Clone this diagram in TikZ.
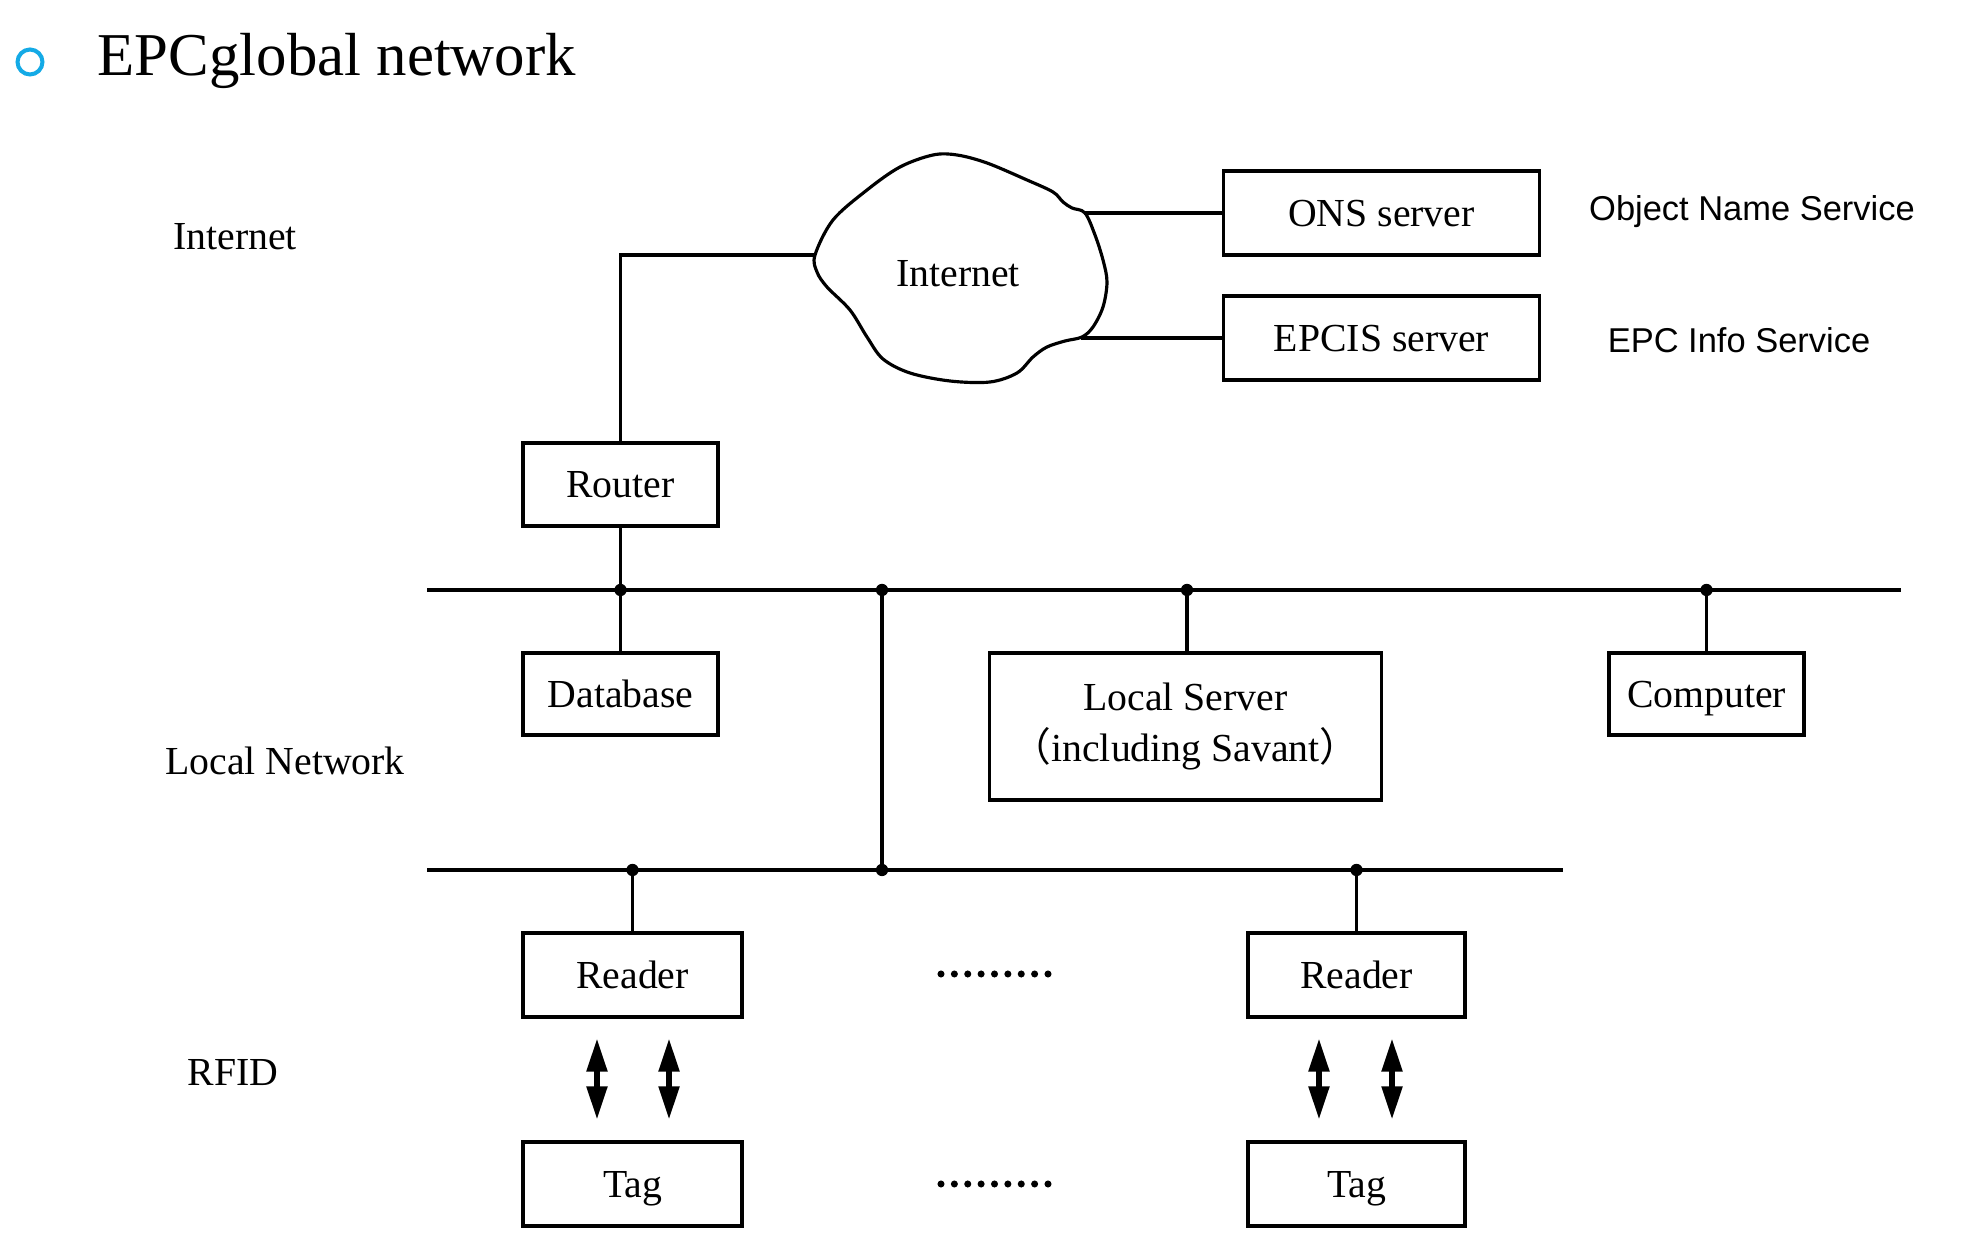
\documentclass[tikz,border=0pt]{standalone}
\usepackage{fontspec}
\setmainfont{Liberation Serif}
\newfontfamily\lblsans{Liberation Sans}
\newfontfamily\cjkfont{Noto Sans CJK SC}
\usetikzlibrary{arrows.meta}
\definecolor{bulletblue}{RGB}{20,170,230}
\newcommand\bxfont{\fontsize{11.3}{14.2}\selectfont}
\newcommand\svcfont{\lblsans\fontsize{9.8}{12}\selectfont}
\newcommand\ttlfont{\fontsize{17.3}{20}\selectfont}
\begin{document}
\begin{tikzpicture}[x=0.01cm,y=-0.01cm,
  boxbase/.style={draw,line width=0.9pt,inner sep=0pt,font=\bxfont,align=center},
  box/.style={boxbase,text height=7.6pt,text depth=0pt},
  lbl/.style={font=\bxfont,inner sep=0pt},
  svc/.style={font=\svcfont,inner sep=0pt},
  wire/.style={line width=0.9pt},
  jdot/.style={circle,fill,inner sep=0pt,minimum size=3.5pt},
  rfarrow/.style={line width=1.5pt,{Triangle[length=9.4pt,width=5.7pt]}-{Triangle[length=9.4pt,width=5.7pt]}},
]
\useasboundingbox[fill=white] (0,0) rectangle (1968,1240);

% title
\draw[bulletblue,line width=1.15pt] (30,62) circle [radius=3.55pt];
\node[anchor=base west,font=\ttlfont,inner sep=0pt] (title) at (97,76) {EPCglobal network};

% side labels
\node[lbl] (lblInternet) at (235,237) {Internet};
\node[lbl] (lblLocal) at (285,761) {Local Network};
\node[lbl] (lblRFID) at (233,1073) {RFID};
\node[svc] (lblONS) at (1752,212) {Object Name Service};
\node[svc] (lblEPC) at (1739,340) {EPC Info Service};

% cloud
\draw[wire] plot[smooth cycle, tension=0.55] coordinates {
 (815,255) (833,220) (867,190) (900,167) (933,155) (957,155) (987,163)
 (1027,180) (1053,192) (1063,202) (1072,208) (1085,213)
 (1095,235) (1103,260) (1107,282) (1103,307) (1093,327) (1082,337)
 (1065,341) (1047,347) (1033,357) (1017,373) (990,382) (950,381)
 (910,373) (883,359) (867,337) (850,310) (827,287) (817,272)};
\node[lbl] (cloud) at (958,274) {Internet};
\coordinate (cloudW) at (815,255);
\coordinate (cloudNE) at (1084,213);
\coordinate (cloudSE) at (1081,338);

% boxes
\node[box,minimum width=1.95cm,minimum height=0.83cm] (router) at (620.5,484.5) {Router};
\node[box,minimum width=1.95cm,minimum height=0.82cm] (database) at (620.5,694) {Database};
\node[boxbase,minimum width=3.91cm,minimum height=1.47cm] (lserver) at (1185.5,726.5)
  {Local Server\\[0.4pt]{\cjkfont （}including Savant{\cjkfont ）}};
\node[box,minimum width=1.95cm,minimum height=0.82cm] (computer) at (1706.5,694) {Computer};
\node[box,minimum width=3.15cm,minimum height=0.84cm] (ons) at (1381.5,213) {ONS server};
\node[box,minimum width=3.15cm,minimum height=0.84cm] (epcis) at (1381.5,338) {EPCIS server};
\node[box,minimum width=2.19cm,minimum height=0.84cm] (readerL) at (632.5,975) {Reader};
\node[box,minimum width=2.17cm,minimum height=0.84cm] (readerR) at (1356.5,975) {Reader};
\node[box,minimum width=2.19cm,minimum height=0.84cm] (tagL) at (632.5,1184) {Tag};
\node[box,minimum width=2.17cm,minimum height=0.84cm] (tagR) at (1356.5,1184) {Tag};

% buses
\coordinate (b1w) at (427,590); \coordinate (b1e) at (1901,590);
\coordinate (b2w) at (427,870); \coordinate (b2e) at (1563,870);
\coordinate (j11) at (620.5,590); \coordinate (j12) at (882,590);
\coordinate (j13) at (1187,590); \coordinate (j14) at (1706.5,590);
\coordinate (j21) at (632.5,870); \coordinate (j22) at (882,870);
\coordinate (j23) at (1356.5,870);
\draw[wire] (b1w) -- (b1e);
\draw[wire] (b2w) -- (b2e);

% connectors
\draw[wire] (router.north) |- (cloudW);
\draw[wire] (cloudNE) -- (ons.west);
\draw[wire] (cloudSE) -- (epcis.west);
\draw[wire] (router.south) -- (database.north);
\draw[wire] (j12) -- (j22);
\draw[wire] (j13) -- (j13 |- lserver.north);
\draw[wire] (j14) -- (computer.north);
\draw[wire] (j21) -- (readerL.north);
\draw[wire] (j23) -- (readerR.north);
\foreach \j in {j11,j12,j13,j14,j21,j22,j23} \node[jdot] at (\j) {};

% RFID arrows
\draw[rfarrow] ([xshift=-0.355cm,yshift=-0.2cm]readerL.south) -- ([xshift=-0.355cm,yshift=0.21cm]tagL.north);
\draw[rfarrow] ([xshift=0.365cm,yshift=-0.2cm]readerL.south) -- ([xshift=0.365cm,yshift=0.21cm]tagL.north);
\draw[rfarrow] ([xshift=-0.375cm,yshift=-0.2cm]readerR.south) -- ([xshift=-0.375cm,yshift=0.21cm]tagR.north);
\draw[rfarrow] ([xshift=0.355cm,yshift=-0.2cm]readerR.south) -- ([xshift=0.355cm,yshift=0.21cm]tagR.north);

% ellipsis dots
\foreach \i in {0,...,8} {
  \fill (941+13.375*\i,974) circle[radius=1pt];
  \fill (941+13.375*\i,1184) circle[radius=1pt];
}
\end{tikzpicture}
\end{document}
